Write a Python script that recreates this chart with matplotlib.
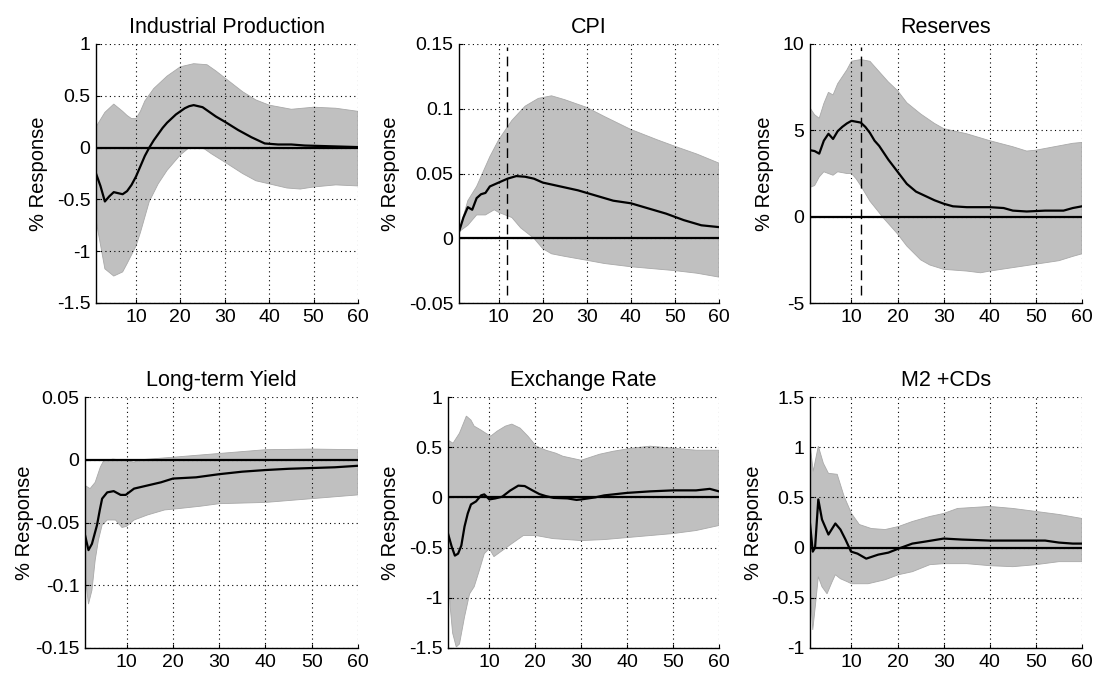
import matplotlib
matplotlib.use("Agg")
import matplotlib.pyplot as plt

plt.rcParams['font.family'] = ['Liberation Sans', 'DejaVu Sans']

# ---- data (months after shock, % response) ----
titles = ['Industrial Production', 'CPI', 'Reserves',
          'Long-term Yield', 'Exchange Rate', 'M2 +CDs']

# Industrial Production
ip_x = [1, 2, 3, 4, 5, 6, 7, 8, 9, 10, 11, 12, 13, 14, 15, 16, 17, 18, 19, 20, 21, 22, 23, 24, 25, 26, 27, 28, 30,
        33, 36, 39, 42, 45, 48, 52, 56, 60]
ip_mean = [-0.25, -0.37, -0.52, -0.47, -0.43, -0.44, -0.45, -0.42, -0.36, -0.28, -0.18, -0.08, 0.0, 0.07, 0.13,
           0.19, 0.24, 0.28, 0.32, 0.35, 0.38, 0.40, 0.41, 0.40, 0.39, 0.36, 0.33, 0.30, 0.25, 0.17, 0.10, 0.04,
           0.03, 0.03, 0.02, 0.015, 0.01, 0.005]
ip_up_x = [1, 3, 5, 7, 8, 9, 10, 11, 12, 14, 17, 20, 23, 26, 28, 31, 34, 37, 40, 45, 50, 55, 60]
ip_up = [0.20, 0.34, 0.42, 0.35, 0.31, 0.28, 0.28, 0.35, 0.45, 0.57, 0.69, 0.78, 0.81, 0.80, 0.74, 0.64, 0.54, 0.46,
         0.41, 0.37, 0.39, 0.38, 0.35]
ip_lo_x = [1, 3, 5, 7, 8, 10, 11, 13, 15, 17, 20, 22, 25, 27, 30, 34, 37, 40, 44, 47, 50, 55, 60]
ip_lo = [-0.70, -1.17, -1.24, -1.20, -1.12, -0.95, -0.82, -0.52, -0.35, -0.22, -0.07, 0.0, 0.0, -0.06, -0.14,
         -0.25, -0.32, -0.35, -0.39, -0.40, -0.38, -0.36, -0.37]

# CPI
cpi_x = [1, 2, 3, 4, 5, 6, 7, 8, 10, 12, 14, 16, 18, 20, 24, 28, 32, 36, 40, 44, 48, 52, 56, 60]
cpi_mean = [0.005, 0.016, 0.024, 0.022, 0.031, 0.034, 0.035, 0.040, 0.043, 0.046, 0.048, 0.0475, 0.046, 0.043,
            0.040, 0.037, 0.033, 0.029, 0.027, 0.023, 0.019, 0.014, 0.010, 0.0086]
cpi_up_x = [1, 3, 5, 8, 10, 13, 16, 19, 22, 25, 30, 34, 40, 46, 50, 55, 60]
cpi_up = [0.005, 0.029, 0.040, 0.063, 0.076, 0.091, 0.102, 0.108, 0.110, 0.107, 0.101, 0.094, 0.084, 0.076,
          0.071, 0.065, 0.058]
cpi_lo_x = [1, 3, 5, 7, 9, 10, 13, 15, 18, 20, 22, 25, 30, 34, 40, 45, 50, 55, 60]
cpi_lo = [0.005, 0.010, 0.018, 0.018, 0.022, 0.020, 0.016, 0.008, 0.0, -0.008, -0.012, -0.014, -0.017, -0.0195,
          -0.022, -0.0235, -0.025, -0.027, -0.030]

# Reserves
res_x = [1, 2, 3, 4, 5, 6, 7, 8, 9, 10, 11, 12, 13, 14, 15, 16, 18, 20, 22, 24, 26, 28, 30, 32, 35, 40, 43, 45, 48,
         52, 56, 58, 60]
res_mean = [3.85, 3.8, 3.65, 4.4, 4.8, 4.5, 4.95, 5.2, 5.4, 5.55, 5.5, 5.45, 5.2, 4.85, 4.4, 4.1, 3.3, 2.6, 1.9,
            1.45, 1.2, 0.95, 0.75, 0.6, 0.55, 0.55, 0.5, 0.35, 0.3, 0.35, 0.35, 0.5, 0.6]
res_up_x = [1, 2, 3, 4, 5, 6, 7, 9, 10, 12, 14, 16, 18, 20, 22, 25, 28, 30, 35, 40, 45, 48, 50, 54, 56, 58, 60]
res_up = [6.3, 5.9, 5.7, 6.55, 7.2, 7.05, 7.7, 8.5, 9.0, 9.1, 9.0, 8.4, 7.8, 7.3, 6.6, 5.95, 5.4, 5.1, 4.8, 4.4,
          4.05, 3.8, 3.85, 4.05, 4.15, 4.25, 4.3]
res_lo_x = [1, 2, 3, 4, 5, 6, 7, 9, 10, 11, 12, 14, 17, 20, 22, 25, 27, 30, 35, 38, 40, 45, 50, 55, 58, 60]
res_lo = [1.7, 1.8, 2.3, 2.6, 2.5, 2.4, 2.6, 2.5, 2.5, 2.2, 1.8, 0.9, -0.1, -1.0, -1.7, -2.5, -2.8, -3.05, -3.15,
          -3.25, -3.15, -2.95, -2.75, -2.55, -2.3, -2.15]

# Long-term Yield
lty_x = [1, 1.75, 2.5, 3.6, 4.2, 4.7, 5.8, 7.2, 8.7, 9.8, 11.6, 14.5, 17.4, 20, 25, 30, 35, 40, 45, 50, 55, 60]
lty_mean = [-0.060, -0.072, -0.067, -0.052, -0.040, -0.031, -0.026, -0.025, -0.028, -0.028, -0.023, -0.0205,
            -0.018, -0.015, -0.014, -0.0115, -0.0095, -0.0082, -0.0072, -0.0066, -0.006, -0.0048]
lty_up_x = [1, 2.1, 3.2, 4.3, 5, 7, 10, 11.6, 13, 20, 30, 40, 50, 60]
lty_up = [-0.0205, -0.023, -0.018, -0.006, -0.001, 0.0005, -0.0005, -0.002, 0.0, 0.002, 0.005, 0.008, 0.0085, 0.008]
lty_lo_x = [1, 1.75, 2.5, 3.2, 3.9, 4.7, 5.8, 7.6, 9, 10, 11.6, 14.5, 18.2, 21, 26, 30, 40, 50, 60]
lty_lo = [-0.091, -0.115, -0.104, -0.080, -0.064, -0.052, -0.048, -0.048, -0.054, -0.053, -0.048, -0.044, -0.040,
          -0.039, -0.037, -0.035, -0.034, -0.031, -0.028]

# Exchange Rate
er_x = [1, 1.8, 2.5, 3.2, 3.9, 4.6, 5.3, 6, 7.1, 8.2, 8.9, 10, 11.3, 12.8, 14.5, 16.3, 17.7, 19.5, 20.9, 22.3, 24,
        27, 29, 30, 33, 35, 40, 45, 50, 55, 58, 60]
er_mean = [-0.36, -0.49, -0.58, -0.56, -0.48, -0.29, -0.16, -0.07, -0.04, 0.02, 0.03, -0.02, -0.01, 0.007, 0.067,
           0.117, 0.113, 0.067, 0.033, 0.013, -0.005, -0.01, -0.025, -0.02, 0.0, 0.02, 0.045, 0.06, 0.07, 0.07,
           0.085, 0.06]
er_up_x = [1, 2.1, 3.5, 5, 6, 6.7, 8.2, 9.2, 10.3, 11.7, 13.5, 14.9, 16.7, 18.4, 20.2, 22.3, 24.5, 26, 30, 34, 37,
           41, 45, 50, 55, 60]
er_up = [0.57, 0.54, 0.64, 0.81, 0.77, 0.71, 0.67, 0.64, 0.61, 0.66, 0.71, 0.73, 0.69, 0.61, 0.51, 0.47, 0.44, 0.41,
         0.37, 0.43, 0.46, 0.49, 0.51, 0.49, 0.47, 0.47]
er_lo_x = [1, 1.5, 2, 2.8, 3.5, 4.6, 5.7, 6.7, 7.8, 8.9, 10, 11, 12.8, 14.9, 17.4, 20.2, 23.8, 30, 35, 40, 45, 50,
           55, 60]
er_lo = [-0.65, -1.10, -1.35, -1.49, -1.46, -1.19, -0.96, -0.89, -0.73, -0.56, -0.51, -0.59, -0.53, -0.46, -0.38,
         -0.38, -0.41, -0.43, -0.42, -0.40, -0.38, -0.36, -0.33, -0.28]

# M2 + CDs
m2_x = [1, 1.6, 2.1, 2.8, 3.6, 5, 6.5, 7.6, 8.7, 9.9, 11.3, 13.2, 15.8, 18, 20.2, 23.2, 26, 30, 34, 40, 46, 52, 55,
        58, 60]
m2_mean = [0.24, -0.04, 0.0, 0.48, 0.28, 0.13, 0.24, 0.18, 0.08, -0.04, -0.06, -0.11, -0.07, -0.05, -0.01, 0.04,
           0.06, 0.09, 0.08, 0.07, 0.07, 0.07, 0.05, 0.04, 0.04]
m2_up_x = [1, 1.7, 2.8, 3.9, 5, 6.9, 8.4, 10, 11.7, 14.3, 17.3, 20.2, 23.2, 27, 30, 33, 40, 45, 50, 55, 60]
m2_up = [1.03, 0.76, 1.01, 0.84, 0.74, 0.73, 0.51, 0.34, 0.23, 0.19, 0.18, 0.21, 0.26, 0.31, 0.34, 0.39, 0.41,
         0.39, 0.36, 0.33, 0.29]
m2_lo_x = [1, 1.6, 2.3, 2.8, 3.6, 4.7, 5.8, 6.5, 7.6, 9.1, 10, 13.6, 17.3, 20.2, 23.2, 27, 30, 35, 40, 45, 50, 55, 60]
m2_lo = [-0.39, -0.82, -0.52, -0.29, -0.39, -0.46, -0.34, -0.27, -0.31, -0.34, -0.36, -0.36, -0.32, -0.27, -0.24,
         -0.17, -0.16, -0.16, -0.18, -0.19, -0.17, -0.14, -0.14]

yticks = [[-1.5, -1, -0.5, 0, 0.5, 1],
          [-0.05, 0, 0.05, 0.1, 0.15],
          [-5, 0, 5, 10],
          [-0.15, -0.1, -0.05, 0, 0.05],
          [-1.5, -1, -0.5, 0, 0.5, 1],
          [-1, -0.5, 0, 0.5, 1, 1.5]]
xticks = [10, 20, 30, 40, 50, 60]
dashed_month = 12   # vertical marker on CPI and Reserves

series = [(ip_x, ip_mean, ip_up_x, ip_up, ip_lo_x, ip_lo),
          (cpi_x, cpi_mean, cpi_up_x, cpi_up, cpi_lo_x, cpi_lo),
          (res_x, res_mean, res_up_x, res_up, res_lo_x, res_lo),
          (lty_x, lty_mean, lty_up_x, lty_up, lty_lo_x, lty_lo),
          (er_x, er_mean, er_up_x, er_up, er_lo_x, er_lo),
          (m2_x, m2_mean, m2_up_x, m2_up, m2_lo_x, m2_lo)]

# axes boxes in pixels: left, right, top, bottom (figure is 1094 x 676)
boxes = [(96, 358, 44, 303), (459, 719, 44, 303), (810, 1082, 44, 303),
         (85, 358, 397, 648), (448, 719, 397, 648), (810, 1082, 397, 648)]
label_x = [-0.183, -0.227, -0.132, -0.187, -0.177, -0.173]

W, H = 1094, 676
fig = plt.figure(figsize=(W / 100, H / 100), dpi=100)

for i in range(6):
    l, r, t, b = boxes[i]
    ax = fig.add_axes([l / W, 1 - b / H, (r - l) / W, (b - t) / H])
    xm, ym, xu, yu, xl, yl = series[i]

    # confidence band as polygon
    bx = list(xu) + list(xl)[::-1]
    by = list(yu) + list(yl)[::-1]
    ax.fill(bx, by, facecolor='#c0c0c0', edgecolor='#a9a9a9', linewidth=0.6, zorder=1)

    ax.axhline(0, color='black', linewidth=1.6, zorder=3)
    ax.plot(xm, ym, color='black', linewidth=1.6, zorder=4)

    if i in (1, 2):
        ax.axvline(dashed_month, ymin=0.03, ymax=0.99, color='black', linestyle=(0, (7, 4)),
                   linewidth=1.0, zorder=4)

    yt = yticks[i]
    ax.set_xlim(1, 60)
    ax.set_ylim(yt[0], yt[-1])
    ax.set_xticks(xticks)
    ax.set_xticklabels([str(v) for v in xticks])
    ax.set_yticks(yt)
    ax.set_yticklabels([('%g' % v) for v in yt])

    ax.grid(True, linestyle=(0, (1, 3)), color='black', linewidth=0.8)
    ax.set_axisbelow(False)
    for s in ('top', 'right'):
        ax.spines[s].set_visible(False)
    for s in ('left', 'bottom'):
        ax.spines[s].set_linewidth(1.0)
    ax.tick_params(direction='in', length=3, labelsize=14, pad=4)

    ax.set_title(titles[i], fontsize=15.5, pad=8)
    ax.set_ylabel('% Response', fontsize=14.5)
    ax.yaxis.set_label_coords(label_x[i], 0.5)

fig.savefig('out.png', dpi=100)
